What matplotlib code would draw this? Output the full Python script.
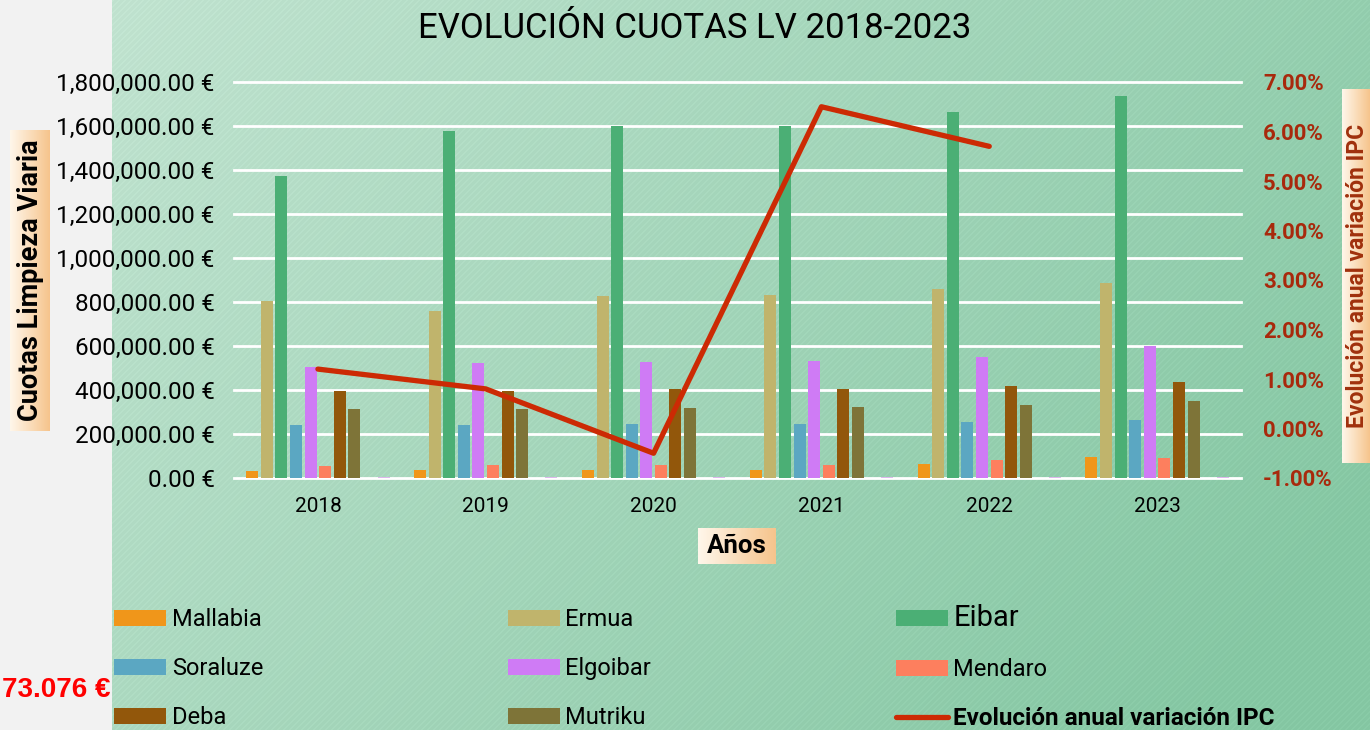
import numpy as np
import matplotlib
matplotlib.use('Agg')
from matplotlib import pyplot as plt
from matplotlib import font_manager
from matplotlib.ticker import FuncFormatter, MultipleLocator

# -- data -- #
years = ['2018', '2019', '2020', '2021', '2022', '2023']
mallabia = [34000, 35000, 36000, 36000, 65000, 94000]
ermua = [805000, 759000, 827000, 833000, 858000, 888000]
eibar = [1374000, 1577000, 1600000, 1600000, 1664000, 1736000]
soraluze = [241000, 241000, 245000, 245000, 255000, 264000]
elgoibar = [505000, 521000, 527000, 533000, 549000, 601000]
mendaro = [55000, 58000, 59000, 59000, 83000, 90000]
deba = [397000, 395000, 403000, 406000, 418000, 435000]
mutriku = [314000, 314000, 318000, 323000, 333000, 351000]
vacio = [0, 0, 0, 0, 0, 0]
otros = [4000, 4000, 4000, 4000, 4000, 4000]
ipc = [0.012, 0.008, -0.005, 0.065, 0.057, np.nan]

names = ['Mallabia', 'Ermua', 'Eibar', 'Soraluze', 'Elgoibar', 'Mendaro',
         'Deba', 'Mutriku', None, None]
series = [mallabia, ermua, eibar, soraluze, elgoibar, mendaro, deba, mutriku,
          vacio, otros]
colors = ['#F0961A', '#C0B46C', '#4BAF75', '#5BA7C2', '#CF7BF5', '#FD7F5E',
          '#92570B', '#7E7438', '#FFFFFF', '#DDB8EC']
ipc_label = 'Evolución anual variación IPC'

plt.rcParams['font.family'] = ['Roboto', 'DejaVu Sans']
installed = {f.name for f in font_manager.fontManager.ttflist}
narrow = 'Liberation Sans Narrow' in installed

W, H = 1370, 730
def fx(px):
    return px / W
def fy(py):
    return 1 - py / H

fig = plt.figure(figsize=(W / 100, H / 100), dpi=100)
fig.patch.set_facecolor('#f2f2f2')

# background: green gradient with thin diagonal stripes
bg = fig.add_axes([fx(112), 0, 1 - fx(112), 1], zorder=-10)
yy, xx = np.mgrid[0:H, 0:W - 112]
t = np.clip(0.75 * xx / (W - 112) + 0.35 * yy / H, 0, 1)
c0 = np.array([192, 226, 207]) / 255
c1 = np.array([132, 198, 162]) / 255
img = c0 + (c1 - c0) * t[..., None]
img = np.clip(img + 0.02 * (((xx + yy) % 6) < 2)[..., None], 0, 1)
bg.imshow(img, aspect='auto', interpolation='nearest')
bg.axis('off')


def gradient_box(x0, y0, x1, y1):
    b = fig.add_axes([fx(x0), fy(y1), fx(x1) - fx(x0), (y1 - y0) / H], zorder=4)
    g = np.linspace(0, 1, 256)[None, :, None]
    a = np.array([255, 247, 235]) / 255
    z = np.array([246, 196, 140]) / 255
    b.imshow(a + (z - a) * g, aspect='auto')
    b.axis('off')


# -- main plot -- #
ax = fig.add_axes([fx(234), fy(478), fx(1241) - fx(234), (478 - 82) / H], zorder=1)
ax.set_facecolor('none')
x = np.arange(len(years))
pitch, bw = 0.0869, 0.0714
bars = []
for i, (vals, col) in enumerate(zip(series, colors)):
    b = ax.bar(x + (i - 4.5) * pitch, vals, bw, color=col, zorder=3)
    bars.append(b)

ax.set_xlim(-0.5, 5.5)
ax.set_ylim(0, 1800000)
ax.yaxis.set_major_locator(MultipleLocator(200000))
ax.yaxis.set_major_formatter(FuncFormatter(lambda v, p: f'{v:,.2f} €'))
ax.set_xticks(x, years)
ax.grid(axis='y', color='white', lw=2, zorder=0)
ax.set_axisbelow(True)
for line in ax.get_ygridlines():
    line.set_clip_on(False)
for s in ax.spines.values():
    s.set_visible(False)
ax.tick_params(axis='y', length=0, pad=14, labelsize=17.5)
ax.tick_params(axis='x', length=0, pad=14, labelsize=15)

ax2 = ax.twinx()
ax2.set_zorder(2)
ax2.set_ylim(-0.01, 0.07)
yt = np.arange(-0.01, 0.0701, 0.01)
ax2.set_yticks(yt, [f'{v * 100:.2f}%' for v in yt], fontweight='bold',
               color='#A8290C', fontsize=16)
ax2.tick_params(axis='y', length=0, pad=16)
for s in ax2.spines.values():
    s.set_visible(False)
ln, = ax2.plot(x, ipc, color='#CC2A04', lw=3.8, solid_capstyle='round',
               solid_joinstyle='round', zorder=5)

## -- titles and labels -- ##
if narrow:
    fig.text(fx(695), fy(29), 'EVOLUCIÓN CUOTAS LV 2018-2023', ha='center',
             va='center', fontsize=29, family='Liberation Sans Narrow')
else:
    fig.text(fx(695), fy(29), 'EVOLUCIÓN CUOTAS LV 2018-2023', ha='center',
             va='center', fontsize=25)

gradient_box(10, 130, 50, 431)
fig.text(fx(31), fy(280), 'Cuotas Limpieza Viaria', rotation=90, ha='center',
         va='center', fontsize=19.5, fontweight='bold', zorder=10)
gradient_box(1342, 89, 1370, 463)
fig.text(fx(1346), fy(276), ipc_label, rotation=90, ha='left', va='center',
         fontsize=16.5, fontweight='bold', color='#A0300C', zorder=10)
gradient_box(698, 528, 776, 564)
fig.text(fx(737), fy(546), 'Años', ha='center', va='center', fontsize=18.5,
         fontweight='bold', zorder=10)

fig.text(fx(2), fy(690), '73.076 €', ha='left', va='center', color='#FF0000',
         fontsize=20, fontweight='bold', family=['Liberation Sans', 'DejaVu Sans'])

## -- legend (row-major order like the original) -- ##
order = [0, 3, 6, 1, 4, 7, 2, 5]
handles = [bars[i] for i in order] + [ln]
labels = [names[i] for i in order] + [ipc_label]
leg = fig.legend(handles, labels, ncol=3, loc='upper left',
                 bbox_to_anchor=(fx(114), fy(604)), frameon=False, fontsize=17,
                 handlelength=2.2, handleheight=0.65, handletextpad=0.25,
                 columnspacing=10.35, labelspacing=1.1, borderpad=0,
                 borderaxespad=0)
for txt in leg.get_texts():
    if txt.get_text() == 'Eibar':
        txt.set_fontsize(21)
    if txt.get_text() == ipc_label:
        txt.set_fontweight('bold')
        txt.set_fontsize(17.5)

fig.savefig('out.png', dpi=100)
